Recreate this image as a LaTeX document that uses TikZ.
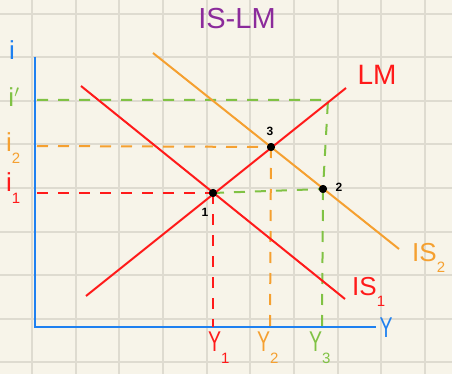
\documentclass[tikz,border=0pt]{standalone}
\usepackage{fontspec}
\setmainfont{Liberation Sans}
\definecolor{bg}{HTML}{F7F4E9}
\definecolor{gridc}{HTML}{DEDBD0}
\definecolor{cred}{HTML}{FF1A1A}
\definecolor{corange}{HTML}{F5A030}
\definecolor{cgreen}{HTML}{80C244}
\definecolor{cblue}{HTML}{1E80F0}
\definecolor{cpurple}{HTML}{8B2B9B}
\newcommand\mysub[1]{\raisebox{-0.45em}{\fontsize{15}{15}\selectfont #1}}
\newcommand\nY{\scalebox{0.75}[1.1]{Y}}
\begin{document}
\begin{tikzpicture}[x=1pt,y=-1pt,
  curve/.style={line width=2pt},
  dsh/.style={line width=2pt,dash pattern=on 11pt off 10pt},
  pt/.style={circle,fill=black,inner sep=0pt,minimum size=8pt},
  lbl/.style={font=\fontsize{26}{26}\selectfont,inner sep=0pt},
  ptl/.style={font=\bfseries\fontsize{12}{12}\selectfont,inner sep=1pt}]
\fill[bg] (0,0) rectangle (452,374);
\useasboundingbox (0,0) rectangle (452,374);
\foreach \k in {0,...,9} {
  \draw[gridc,line width=2pt] ({32+43.65*\k},0) -- ({32+43.65*\k},374);
}
\foreach \k in {0,...,8} {
  \draw[gridc,line width=2pt] (0,{14+43.5*\k}) -- (452,{14+43.5*\k});
}
% axes
\coordinate (ytop) at (35,57);
\coordinate (O) at (35,327);
\coordinate (xend) at (376,327);
\draw[cblue,line width=2.2pt] (ytop) -- (O) -- (xend);
% curves
\coordinate (lma) at (86,296);
\coordinate (lmb) at (346,88);
\coordinate (isa) at (81,86);
\coordinate (isb) at (345,299);
\coordinate (isc) at (153,53);
\coordinate (isd) at (399,249);
% points
\node[pt] (p1) at (213,193) {};
\node[pt] (p3) at (271,147) {};
\node[pt] (p2) at (323,189) {};
% dashed lines
\coordinate (ai1) at (37,193);
\coordinate (ai2) at (37,146);
\coordinate (aip) at (37,100);
\coordinate (gtop) at (328,100);
\coordinate (x1) at (213,327);
\coordinate (x2) at (270,327);
\coordinate (x3) at (322,327);
\draw[dsh,cred] (ai1) -- (p1.center);
\draw[dsh,cred] (p1.center) -- (x1);
\draw[dsh,corange] (ai2) -- (p3.center);
\draw[dsh,corange] (p3.center) -- (x2);
\draw[dsh,cgreen] (aip) -- (gtop) -- (p2.center);
\draw[dsh,cgreen] (p2.center) -- (x3);
\draw[dsh,cgreen] (p1.center) -- (p2.center);
\draw[curve,corange] (isc) -- (isd);
\draw[curve,cred] (lma) -- (lmb);
\draw[curve,cred] (isa) -- (isb);
\node[pt] at (p1) {};
\node[pt] at (p3) {};
\node[pt] at (p2) {};
% point labels
\node[ptl] (l1) at (205,212) {1};
\node[ptl] (l3) at (270,131) {3};
\node[ptl] (l2) at (339,187) {2};
% labels
\node[lbl,cpurple,font=\fontsize{29}{29}\selectfont] (title) at (237,19) {IS-LM};
\node[lbl,cred,font=\fontsize{28}{28}\selectfont] (tlm) at (377,75) {LM};
\node[lbl,cred,anchor=west] (tis1) at (352,292) {IS\mysub{1}};
\node[lbl,corange,anchor=west] (tis2) at (412,258) {IS\mysub{2}};
\node[lbl,cblue] (ty) at (386,328) {\nY};
\node[lbl,cred,anchor=west] (ty1) at (208,348) {\nY\mysub{1}};
\node[lbl,corange,anchor=west] (ty2) at (257,348) {\nY\mysub{2}};
\node[lbl,cgreen,anchor=west] (ty3) at (309,348) {\nY\mysub{3}};
\node[lbl,cblue] (ti) at (12,50) {i};
\node[lbl,cgreen] (tip) at (14,97) {i$'$};
\node[lbl,corange,anchor=west] (ti2) at (6,148) {i\mysub{2}};
\node[lbl,cred,anchor=west] (ti1) at (6,188) {i\mysub{1}};
\end{tikzpicture}
\end{document}
